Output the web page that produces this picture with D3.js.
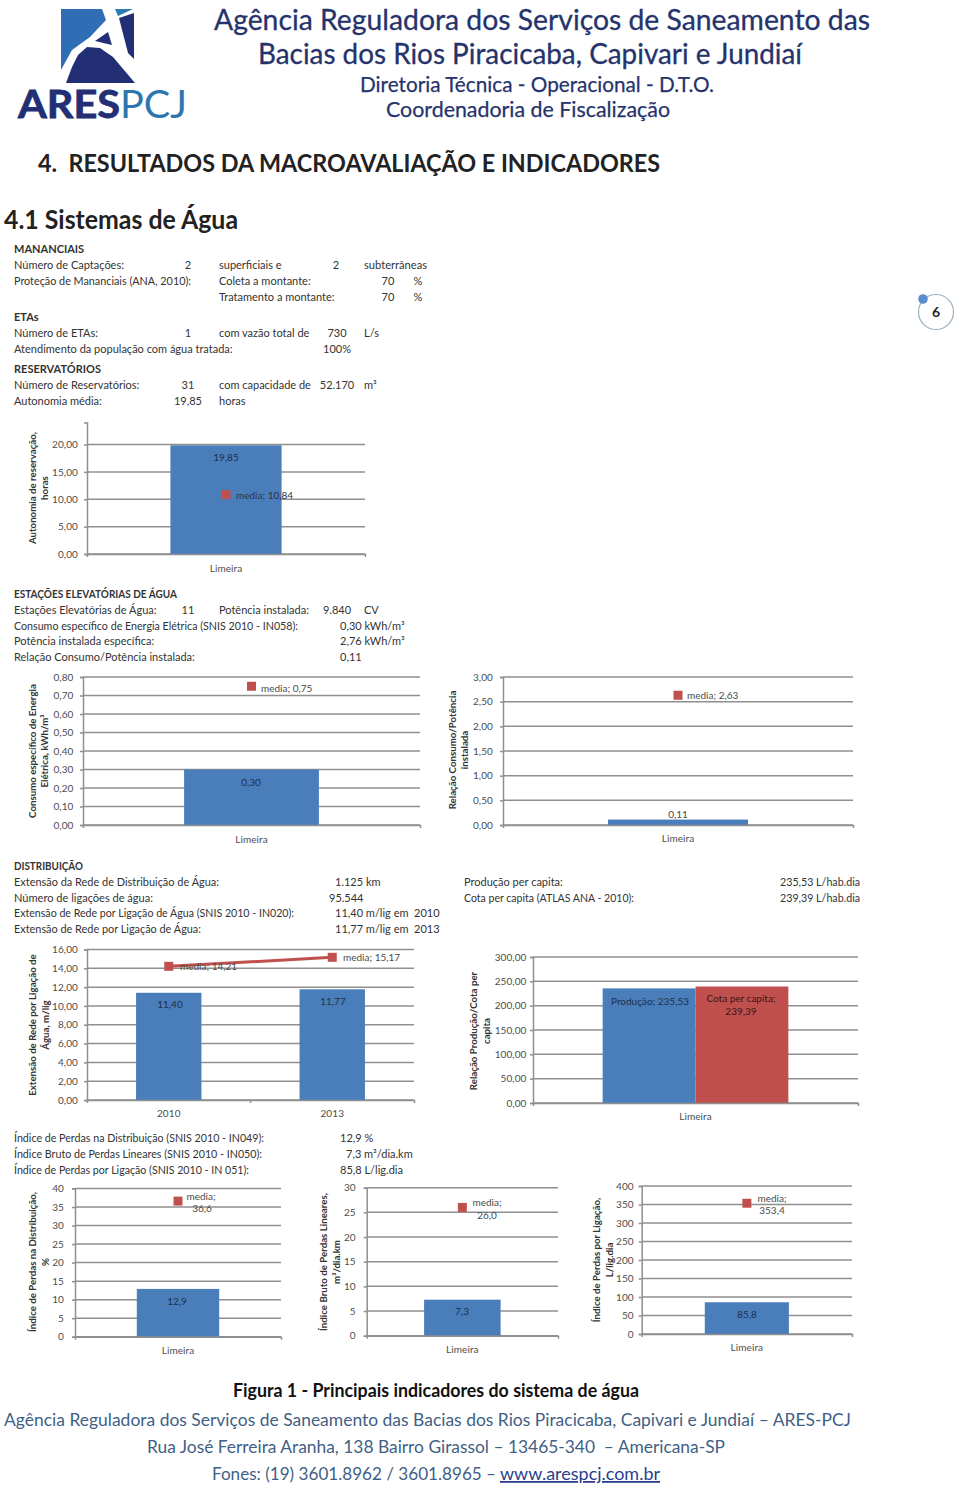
<!DOCTYPE html>
<html>
  <head>
    <meta charset="UTF-8" />
    <title>Principais indicadores do sistema de água</title>
    <script src="https://d3js.org/d3.v7.min.js"></script>
    <style>
      html, body { margin: 0; padding: 0; background: #fff; }
      svg { display: block; }
      text { font-family: Lato, "Open Sans", sans-serif; }
    </style>
  </head>
  <body>
    <svg id="page" width="960" height="1487"></svg>
    <script>
      // chart values
      const limeira = ["Limeira"];
      const years = ["2010", "2013"];

      const autonomiaValues = [19.85];
      const autonomiaMedia = [10.84];
      const autonomiaTicks = [0, 5, 10, 15, 20];

      const consumoValues = [0.3];
      const consumoMedia = [0.75];
      const consumoTicks = [0, 0.1, 0.2, 0.3, 0.4, 0.5, 0.6, 0.7, 0.8];

      const relacaoValues = [0.11];
      const relacaoMedia = [2.63];
      const relacaoTicks = [0, 0.5, 1, 1.5, 2, 2.5, 3];

      const extensaoValues = [11.4, 11.77];
      const extensaoMedia = [14.21, 15.17];
      const extensaoTicks = [0, 2, 4, 6, 8, 10, 12, 14, 16];

      const producaoValues = [235.53];
      const cotaValues = [239.39];
      const producaoTicks = [0, 50, 100, 150, 200, 250, 300];

      const perdasValues = [12.9];
      const perdasMedia = [36.6];
      const perdasTicks = [0, 5, 10, 15, 20, 25, 30, 35, 40];

      const brutoValues = [7.3];
      const brutoMedia = [26.0];
      const brutoTicks = [0, 5, 10, 15, 20, 25, 30];

      const ligacaoValues = [85.8];
      const ligacaoMedia = [353.4];
      const ligacaoTicks = [0, 50, 100, 150, 200, 250, 300, 350, 400];

      const BLUE = "#4a7ebb";
      const RED = "#c0504d";
      const GRID = "#8f8f8f";
      const INK = "#333";

      const svg = d3.select("#page");

      const put = (g, x, y, str, o = {}) => {
        const t = g
          .append("text")
          .attr("x", x)
          .attr("y", y)
          .attr("font-size", o.size || 11)
          .attr("font-weight", o.bold ? 700 : 400)
          .attr("fill", o.color || INK)
          .attr("text-anchor", o.anchor || "start")
          .text(str);
        if (o.w) {
          t.attr("textLength", o.w).attr("lengthAdjust", "spacingAndGlyphs");
        }
        if (o.under) t.attr("text-decoration", "underline");
        if (o.stroke) t.attr("stroke", o.color).attr("stroke-width", o.stroke);
        return t;
      };

      // ---- header ----
      const drawLogo = () => {
        const g = svg.append("g");
        const poly = (pts, fill) =>
          g.append("polygon").attr("points", pts).attr("fill", fill);
        poly("61,9 102,9 106,20 90,37 72,50 61,70", "#2f6db5");
        poly("115,9 133,9 118,16", "#2b7cb5");
        poly("119,18 134,13 134,59 128,53", "#232f74");
        poly("95,41 108,32 112,45", "#232f74");
        poly("87,47 100,48 113,57 135,83 66,83 72,67 78,55", "#232f74");
        put(g, 18, 118, "ARES", { size: 38, bold: true, color: "#232f74", w: 102, stroke: 0.8 });
        put(g, 120, 118, "PCJ", { size: 38, color: "#2b76ad", w: 67 });
      };
      drawLogo();

      const NAVY = "#25336c";
      const header = svg.append("g");
      put(header, 214, 29.5, "Agência Reguladora dos Serviços de Saneamento das", { size: 29, color: NAVY, w: 656, stroke: 0.3 });
      put(header, 258, 64, "Bacias dos Rios Piracicaba, Capivari e Jundiaí", { size: 29, color: NAVY, w: 544, stroke: 0.3 });
      put(header, 360, 92, "Diretoria Técnica - Operacional - D.T.O.", { size: 22, color: NAVY, w: 354, stroke: 0.25 });
      put(header, 386, 117, "Coordenadoria de Fiscalização", { size: 22, color: NAVY, w: 284, stroke: 0.25 });
      put(header, 38, 172, "4.\u00a0\u00a0RESULTADOS DA MACROAVALIAÇÃO E INDICADORES", { size: 25, bold: true, color: "#222", w: 622 });
      put(header, 4, 229, "4.1 Sistemas de Água", { size: 26, bold: true, color: "#222", w: 234 });

      // page badge
      svg.append("circle").attr("cx", 936).attr("cy", 312).attr("r", 17.5).attr("fill", "#fff").attr("stroke", "#9db2bf").attr("stroke-width", 1.2);
      svg.append("circle").attr("cx", 923).attr("cy", 299).attr("r", 4.8).attr("fill", "#5b8ccb");
      put(svg, 936, 317, "6", { size: 14, bold: true, anchor: "middle", color: "#222" });

      // ---- text tables ----
      const rows = [
        [14, 253, "MANANCIAIS", { bold: true }],
        [14, 269, "Número de Captações:"],
        [188, 269, "2", { anchor: "middle" }],
        [219, 269, "superficiais e"],
        [336, 269, "2", { anchor: "middle" }],
        [364, 269, "subterrâneas", { w: 63 }],
        [14, 285, "Proteção de Mananciais (ANA, 2010):", { w: 177 }],
        [219, 285, "Coleta a montante:"],
        [388, 285, "70", { anchor: "middle" }],
        [418, 285, "%", { anchor: "middle" }],
        [219, 301, "Tratamento a montante:"],
        [388, 301, "70", { anchor: "middle" }],
        [418, 301, "%", { anchor: "middle" }],
        [14, 321, "ETAs", { bold: true }],
        [14, 337, "Número de ETAs:"],
        [188, 337, "1", { anchor: "middle" }],
        [219, 337, "com vazão total de"],
        [337, 337, "730", { anchor: "middle" }],
        [364, 337, "L/s"],
        [14, 353, "Atendimento da população com água tratada:"],
        [337, 353, "100%", { anchor: "middle" }],
        [14, 373, "RESERVATÓRIOS", { bold: true }],
        [14, 389, "Número de Reservatórios:"],
        [188, 389, "31", { anchor: "middle" }],
        [219, 389, "com capacidade de"],
        [337, 389, "52.170", { anchor: "middle" }],
        [364, 389, "m³"],
        [14, 405, "Autonomia média:"],
        [188, 405, "19,85", { anchor: "middle" }],
        [219, 405, "horas"],
        [14, 598, "ESTAÇÕES ELEVATÓRIAS DE ÁGUA", { bold: true, w: 163 }],
        [14, 614, "Estações Elevatórias de Água:"],
        [188, 614, "11", { anchor: "middle" }],
        [219, 614, "Potência instalada:"],
        [337, 614, "9.840", { anchor: "middle" }],
        [364, 614, "CV"],
        [14, 630, "Consumo específico de Energia Elétrica (SNIS 2010 - IN058):", { w: 284 }],
        [340, 630, "0,30 kWh/m³"],
        [14, 645, "Potência instalada específica:"],
        [340, 645, "2,76 kWh/m³"],
        [14, 661, "Relação Consumo/Potência instalada:"],
        [340, 661, "0,11"],
        [14, 870, "DISTRIBUIÇÃO", { bold: true, w: 69 }],
        [14, 886, "Extensão da Rede de Distribuição de Água:", { w: 205 }],
        [335, 886, "1.125 km"],
        [464, 886, "Produção per capita:"],
        [780, 886, "235,53 L/hab.dia", { w: 80 }],
        [14, 902, "Número de ligações de água:", { w: 139 }],
        [329, 902, "95.544"],
        [464, 902, "Cota per capita (ATLAS ANA - 2010):", { w: 170 }],
        [780, 902, "239,39 L/hab.dia", { w: 80 }],
        [14, 917, "Extensão de Rede por Ligação de Água (SNIS 2010 - IN020):", { w: 280 }],
        [335, 917, "11,40 m/lig em"],
        [414, 917, "2010"],
        [14, 933, "Extensão de Rede por Ligação de Água:", { w: 187 }],
        [335, 933, "11,77 m/lig em"],
        [414, 933, "2013"],
        [14, 1142, "Índice de Perdas na Distribuição (SNIS 2010 - IN049):", { w: 250 }],
        [340, 1142, "12,9 %"],
        [14, 1158, "Índice Bruto de Perdas Lineares (SNIS 2010 - IN050):", { w: 248 }],
        [346, 1158, "7,3 m³/dia.km"],
        [14, 1174, "Índice de Perdas por Ligação (SNIS 2010 - IN 051):", { w: 235 }],
        [340, 1174, "85,8 L/lig.dia"],
      ];
      const textG = svg.append("g");
      rows.forEach(([x, y, s, o]) => put(textG, x, y, s, o));

      // ---- charts ----
      const comma = (digits) => (d) => d3.format(`.${digits}f`)(d).replace(".", ",");

      // Excel style clustered bars: gap is 150% of one bar
      const drawChart = (c) => {
        const g = svg.append("g");
        const x = d3.scaleBand().domain(c.categories).range([c.x0, c.x1]);
        const y = d3.scaleLinear().domain([0, c.yMax]).range([c.y0, c.yTop]);
        const fmt = comma(c.digits);

        g.selectAll("line.grid")
          .data(c.ticks)
          .enter()
          .append("line")
          .attr("class", "grid")
          .attr("x1", c.x0)
          .attr("x2", c.x1)
          .attr("y1", (d) => y(d))
          .attr("y2", (d) => y(d))
          .attr("stroke", GRID)
          .attr("stroke-width", 1.5);

        const barW = x.bandwidth() / (c.series.length + 1.5);
        c.series.forEach((s, i) => {
          g.selectAll(null)
            .data(s.values)
            .enter()
            .append("rect")
            .attr("x", (d, k) => x(c.categories[k]) + x.bandwidth() / 2 - (c.series.length * barW) / 2 + i * barW)
            .attr("y", (d) => y(d))
            .attr("width", barW)
            .attr("height", (d) => y(0) - y(d))
            .attr("fill", s.color);
        });

        const yAxis = g
          .append("g")
          .attr("transform", `translate(${c.x0},0)`)
          .call(d3.axisLeft(y).tickValues(c.ticks).tickSize(3).tickPadding(c.pad).tickFormat(fmt));
        const xAxis = g
          .append("g")
          .attr("transform", `translate(0,${c.y0})`)
          .call(d3.axisBottom(x).tickSize(0).tickSizeOuter(3).tickPadding(c.catDy));
        [yAxis, xAxis].forEach((a) => {
          a.selectAll("path, line").attr("stroke", GRID).attr("stroke-width", 1.5);
          a.selectAll("text").attr("fill", "#4d4d4d").attr("font-size", 10).style("letter-spacing", "0.1px");
        });
        c.categories.slice(1).forEach((cat) => {
          g.append("line")
            .attr("x1", x(cat))
            .attr("x2", x(cat))
            .attr("y1", c.y0)
            .attr("y2", c.y0 + 3)
            .attr("stroke", GRID)
            .attr("stroke-width", 1.5);
        });

        if (c.media) {
          if (c.media.length > 1) {
            const line = d3
              .line()
              .x((d, k) => x(c.categories[k]) + x.bandwidth() / 2)
              .y((d) => y(d));
            g.append("path").attr("d", line(c.media)).attr("fill", "none").attr("stroke", RED).attr("stroke-width", 3);
          }
          g.selectAll(null)
            .data(c.media)
            .enter()
            .append("rect")
            .attr("x", (d, k) => x(c.categories[k]) + x.bandwidth() / 2 - 4.5)
            .attr("y", (d) => y(d) - 4.5)
            .attr("width", 9)
            .attr("height", 9)
            .attr("fill", RED);
        }

        c.labels.forEach(([lx, ly, s, anchor, color]) => {
          put(g, lx, ly, s, { size: 10, anchor: anchor || "middle", color: color || "#4a4a4a" });
        });

        c.title.forEach(([tx, s]) => {
          g.append("text")
            .attr("transform", `translate(${tx},${c.titleY}) rotate(-90)`)
            .attr("text-anchor", "middle")
            .attr("font-size", 9.7)
            .attr("font-weight", 700)
            .attr("fill", "#333")
            .text(s);
        });
      };

      const ON_BAR = "#1f2f48";
      const ON_RED = "#3a1514";
      const chartDefs = [
        {
          categories: limeira, series: [{ values: autonomiaValues, color: BLUE }], media: autonomiaMedia,
          ticks: autonomiaTicks, digits: 2, yMax: 24, x0: 87, x1: 365, y0: 554, yTop: 422.6, catDy: 11, pad: 6,
          labels: [[226, 461, "19,85", "middle", ON_BAR], [236, 499, "media; 10,84", "start", "#2a3446"]],
          title: [[36, "Autonomia de reservação,"], [48, "horas"]], titleY: 488,
        },
        {
          categories: limeira, series: [{ values: consumoValues, color: BLUE }], media: consumoMedia,
          ticks: consumoTicks, digits: 2, yMax: 0.8, x0: 83, x1: 420, y0: 825, yTop: 677, catDy: 11, pad: 6.5,
          labels: [[251, 786, "0,30", "middle", ON_BAR], [261, 692, "media; 0,75", "start"]],
          title: [[36, "Consumo específico de Energia"], [48, "Elétrica, kWh/m³"]], titleY: 751,
        },
        {
          categories: limeira, series: [{ values: relacaoValues, color: BLUE }], media: relacaoMedia,
          ticks: relacaoTicks, digits: 2, yMax: 3, x0: 503, x1: 853, y0: 825, yTop: 677, catDy: 10, pad: 7,
          labels: [[678, 818, "0,11"], [687, 699, "media; 2,63", "start"]],
          title: [[456, "Relação Consumo/Potência"], [468, "instalada"]], titleY: 750,
        },
        {
          categories: years, series: [{ values: extensaoValues, color: BLUE }], media: extensaoMedia,
          ticks: extensaoTicks, digits: 2, yMax: 16, x0: 87, x1: 414, y0: 1100, yTop: 949.5, catDy: 10, pad: 6,
          labels: [[170, 1008, "11,40", "middle", ON_BAR], [333, 1005, "11,77", "middle", ON_BAR], [180, 970, "media; 14,21", "start"], [343, 961, "media; 15,17", "start"]],
          title: [[36, "Extensão de Rede por Ligação de"], [49, "Água, m/lig"]], titleY: 1025,
        },
        {
          categories: limeira, series: [{ values: producaoValues, color: BLUE }, { values: cotaValues, color: RED }],
          ticks: producaoTicks, digits: 2, yMax: 300, x0: 533, x1: 858, y0: 1103, yTop: 957, catDy: 10, pad: 3.5,
          labels: [[650, 1005, "Produção; 235,53", "middle", ON_BAR], [741, 1002, "Cota per capita;", "middle", ON_RED], [741, 1015, "239,39", "middle", ON_RED]],
          title: [[477, "Relação Produção/Cota per"], [490, "capita"]], titleY: 1031,
        },
        {
          categories: limeira, series: [{ values: perdasValues, color: BLUE }], media: perdasMedia,
          ticks: perdasTicks, digits: 0, yMax: 40, x0: 75, x1: 281, y0: 1336.7, yTop: 1188.5, catDy: 10, pad: 8,
          labels: [[177, 1305, "12,9", "middle", ON_BAR], [201, 1200, "media;"], [202, 1212, "36,6"]],
          title: [[36, "Índice de Perdas na Distribuição,"], [49, "%"]], titleY: 1262,
        },
        {
          categories: limeira, series: [{ values: brutoValues, color: BLUE }], media: brutoMedia,
          ticks: brutoTicks, digits: 0, yMax: 30, x0: 366.7, x1: 558, y0: 1335.7, yTop: 1187.7, catDy: 10, pad: 8,
          labels: [[462, 1315, "7,3", "middle", ON_BAR], [487, 1206, "media;"], [487, 1219, "26,0"]],
          title: [[327, "Índice Bruto de Perdas Lineares,"], [340, "m³/dia.km"]], titleY: 1262,
        },
        {
          categories: limeira, series: [{ values: ligacaoValues, color: BLUE }], media: ligacaoMedia,
          ticks: ligacaoTicks, digits: 0, yMax: 400, x0: 641.7, x1: 852, y0: 1334, yTop: 1186, catDy: 10, pad: 5,
          labels: [[747, 1318, "85,8", "middle", ON_BAR], [772, 1202, "media;"], [772, 1214, "353,4"]],
          title: [[600, "Índice de Perdas por Ligação,"], [613, "L/lig.dia"]], titleY: 1260,
        },
      ];
      chartDefs.forEach(drawChart);

      // ---- footer ----
      const footer = svg.append("g");
      const FOOT = "#3f5f85";
      put(footer, 233, 1397, "Figura 1 - Principais indicadores do sistema de água", { size: 18, bold: true, color: "#111", w: 406 });
      put(footer, 4, 1426, "Agência Reguladora dos Serviços de Saneamento das Bacias dos Rios Piracicaba, Capivari e Jundiaí – ARES-PCJ", { size: 18, color: FOOT, w: 847 });
      put(footer, 147, 1453, "Rua José Ferreira Aranha, 138 Bairro Girassol – 13465-340\u00a0\u00a0– Americana-SP", { size: 18, color: FOOT, w: 578 });
      put(footer, 212, 1480, "Fones: (19) 3601.8962 / 3601.8965 –", { size: 18, color: FOOT, w: 284 });
      put(footer, 500, 1480, "www.arespcj.com.br", { size: 18, color: "#2b3f8c", w: 160, under: true });
    </script>
  </body>
</html>
